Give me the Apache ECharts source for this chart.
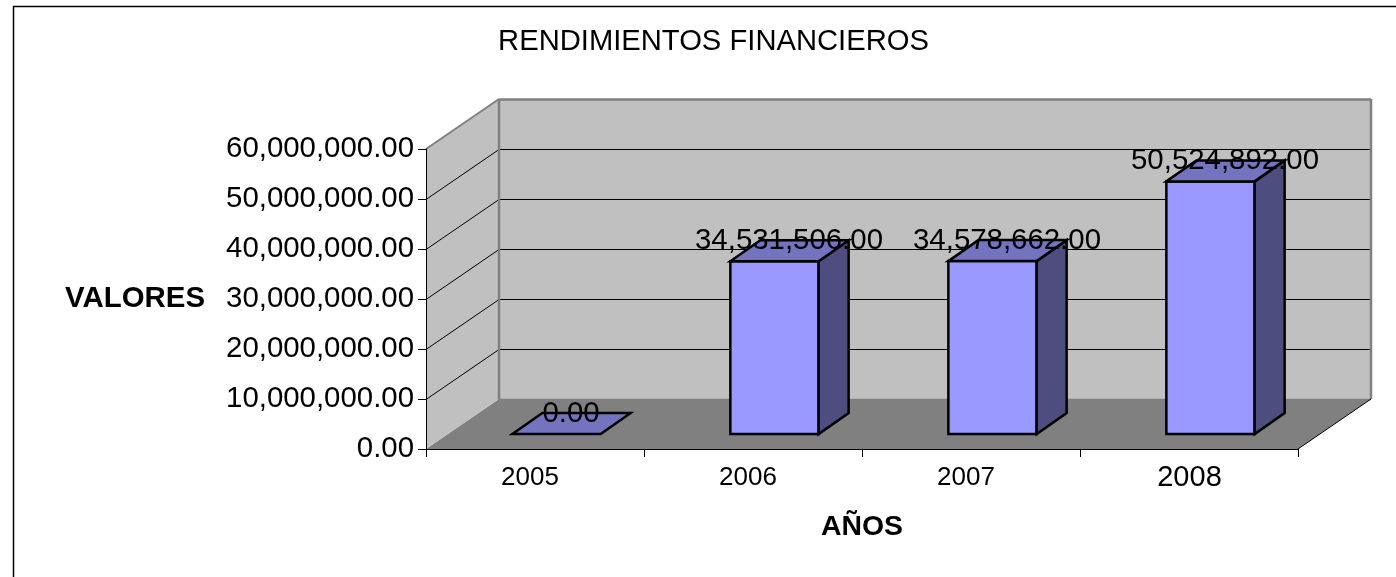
<!DOCTYPE html>
<html>
<head>
<meta charset="utf-8">
<title>Rendimientos financieros</title>
<script src="https://cdn.jsdelivr.net/npm/echarts@6/dist/echarts.min.js"></script>
<style>
  html, body { margin: 0; padding: 0; background: #fff; }
  #main { width: 1396px; height: 577px; }
</style>
</head>
<body>
<div id="main"></div>
<script>
const years = ['2005', '2006', '2007', '2008'];
const rendimientos = [0, 34531506, 34578662, 50524892];
const yMax = 60000000;
const yStep = 10000000;

const FONT = '"Liberation Sans", Arial, sans-serif';
// depth of the fake 3d box, px
const WALL_DX = 73, WALL_DY = -50;
const BAR_SHIFT_X = 21.5, BAR_SHIFT_Y = -15;
const BAR_DX = 30, BAR_DY = -21;

const fmt = v => v.toLocaleString('en-US', { minimumFractionDigits: 2, maximumFractionDigits: 2 });

function poly(points, fill, stroke, lineWidth) {
  return {
    type: 'polygon',
    shape: { points: points },
    style: { fill: fill, stroke: stroke || null, lineWidth: lineWidth || 0, lineJoin: 'miter' }
  };
}

function line(x1, y1, x2, y2, color, w) {
  return {
    type: 'line',
    shape: { x1: x1, y1: y1, x2: x2, y2: y2 },
    style: { stroke: color, lineWidth: w }
  };
}

// walls and floor
function renderBox(params, api) {
  const cs = params.coordSys;
  const l = cs.x, r = cs.x + cs.width, t = cs.y, b = cs.y + cs.height;
  const kids = [
    poly([[l, b], [l + WALL_DX, b + WALL_DY], [r + WALL_DX, b + WALL_DY], [r, b]], '#808080'),
    poly([[l, b], [l + WALL_DX, b + WALL_DY], [l + WALL_DX, t + WALL_DY], [l, t]], '#c0c0c0'),
    poly([[l + WALL_DX, b + WALL_DY], [r + WALL_DX, b + WALL_DY], [r + WALL_DX, t + WALL_DY], [l + WALL_DX, t + WALL_DY]], '#c0c0c0')
  ];
  for (let v = yStep; v < yMax; v += yStep) {
    const y = Math.round(api.coord([0, v])[1]) + 0.5;
    kids.push(line(l, y, l + WALL_DX, y + WALL_DY, '#000', 1));
    kids.push(line(l + WALL_DX, y + WALL_DY, r + WALL_DX, y + WALL_DY, '#000', 1));
  }
  kids.push(line(l + WALL_DX, b + WALL_DY + 0.5, l + WALL_DX, t + WALL_DY, '#808080', 2.5));
  kids.push(line(l, t, l + WALL_DX, t + WALL_DY, '#808080', 2));
  kids.push(line(l + WALL_DX, t + WALL_DY + 0.5, r + WALL_DX, t + WALL_DY + 0.5, '#808080', 2.5));
  kids.push(line(r + WALL_DX, t + WALL_DY, r + WALL_DX, b + WALL_DY, '#808080', 2.5));
  kids.push(line(l + WALL_DX, b + WALL_DY + 0.5, r + WALL_DX, b + WALL_DY + 0.5, '#808080', 1.5));
  kids.push(line(r, b, r + WALL_DX, b + WALL_DY, '#000', 1));
  return { type: 'group', children: kids };
}

function renderBar(params, api) {
  const top = api.coord([api.value(0), api.value(1)]);
  const base = api.coord([api.value(0), 0]);
  const w = api.size([1, 0])[0] * 0.405;
  const x0 = top[0] + BAR_SHIFT_X - w / 2, x1 = x0 + w;
  const yT = top[1] + BAR_SHIFT_Y, yB = base[1] + BAR_SHIFT_Y;
  const kids = [];
  const inkColor = '#000', inkWidth = 2.5;
  if (yB - yT > 0.5) {
    kids.push(poly([[x0, yT], [x1, yT], [x1, yB], [x0, yB]], '#9999ff', inkColor, inkWidth));
    kids.push(poly([[x1, yT], [x1 + BAR_DX, yT + BAR_DY], [x1 + BAR_DX, yB + BAR_DY], [x1, yB]], '#4d4d80', inkColor, inkWidth));
  }
  kids.push(poly([[x0, yT], [x0 + BAR_DX, yT + BAR_DY], [x1 + BAR_DX, yT + BAR_DY], [x1, yT]], '#7373bf', inkColor, inkWidth));
  kids.push({
    type: 'text',
    x: top[0] + BAR_SHIFT_X + 14.5,
    y: yT - 20.5,
    style: {
      text: fmt(api.value(1)),
      font: '29.4px ' + FONT,
      fill: '#000',
      align: 'center',
      verticalAlign: 'middle'
    },
    z2: 10
  });
  return { type: 'group', children: kids };
}

const chart = echarts.init(document.getElementById('main'), null, { renderer: 'canvas' });
chart.setOption({
  animation: false,
  backgroundColor: '#fff',
  title: {
    text: 'RENDIMIENTOS FINANCIEROS',
    left: 708.5,
    top: 22,
    textAlign: 'center',
    textStyle: { fontFamily: FONT, fontSize: 29.2, fontWeight: 'normal', color: '#000' }
  },
  graphic: [
    {
      type: 'polyline',
      z: -1,
      shape: { points: [[13.5, 577], [13.5, 6.5], [1396, 6.5]] },
      style: { fill: null, stroke: '#000', lineWidth: 1.5 }
    }
  ],
  grid: { left: 426, top: 149, width: 872, height: 300, containLabel: false },
  xAxis: {
    type: 'category',
    data: years,
    z: 5,
    name: 'AÑOS',
    nameLocation: 'middle',
    nameGap: 64,
    nameTextStyle: { fontFamily: FONT, fontSize: 28.4, fontWeight: 'bold', color: '#000' },
    axisLine: { lineStyle: { color: '#000', width: 1 } },
    axisTick: { show: true, length: 8, alignWithLabel: false, lineStyle: { color: '#000' } },
    axisLabel: {
      fontFamily: FONT,
      fontSize: 26,
      color: '#000',
      margin: 16,
      padding: [0, 10, 0, 0],
      // last year label is a bit bigger in the original
      formatter: v => (v === '2008' ? '{big|' + v + '}' : v),
      rich: { big: { fontFamily: FONT, fontSize: 29, lineHeight: 26, color: '#000', padding: [0, 0, 0, 11] } }
    },
    splitLine: { show: false }
  },
  yAxis: {
    type: 'value',
    min: 0,
    max: yMax,
    interval: yStep,
    z: 5,
    name: 'VALORES',
    nameLocation: 'middle',
    nameRotate: 0,
    nameGap: 221,
    nameTextStyle: { fontFamily: FONT, fontSize: 29.4, fontWeight: 'bold', color: '#000' },
    axisLine: { show: true, lineStyle: { color: '#000', width: 1 } },
    axisTick: { show: true, length: 8, lineStyle: { color: '#000' } },
    axisLabel: { fontFamily: FONT, fontSize: 29.4, color: '#000', margin: 12, padding: [2, 0, 0, 0], formatter: fmt },
    splitLine: { show: false }
  },
  series: [
    {
      type: 'custom',
      name: 'box',
      silent: true,
      z: 1,
      data: [[0, 0]],
      encode: { x: 0, y: 1 },
      renderItem: renderBox
    },
    {
      type: 'custom',
      name: 'Rendimientos',
      z: 3,
      data: years.map((y, i) => [i, rendimientos[i]]),
      encode: { x: 0, y: 1 },
      renderItem: renderBar
    }
  ]
});
</script>
</body>
</html>
